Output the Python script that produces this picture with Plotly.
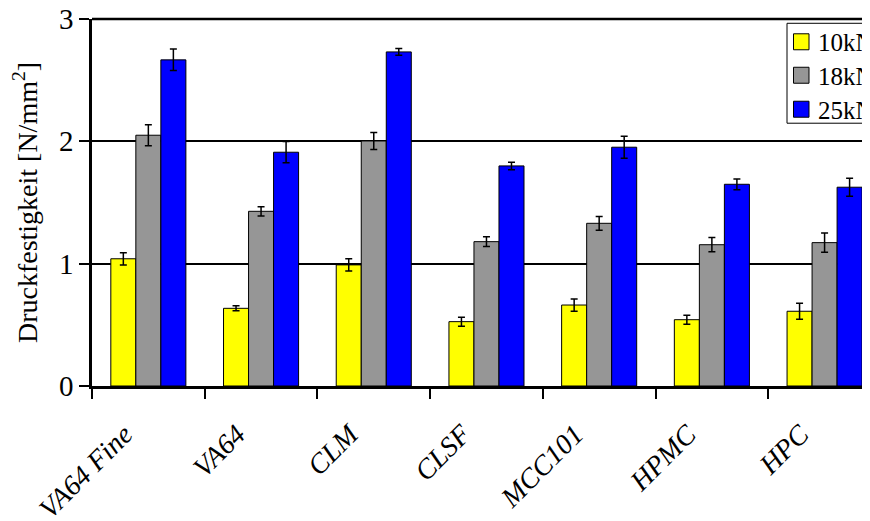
import plotly.graph_objects as go

categories = ["VA64 Fine", "VA64", "CLM", "CLSF", "MCC101", "HPMC", "HPC"]
series_names = ["10kN", "18kN", "25kN"]
values_10kN = [1.04, 0.635, 0.99, 0.526, 0.662, 0.542, 0.611]
values_18kN = [2.05, 1.428, 2.003, 1.18, 1.33, 1.155, 1.172]
values_25kN = [2.666, 1.911, 2.731, 1.799, 1.952, 1.649, 1.625]
err_10kN = [0.05, 0.02, 0.05, 0.037, 0.05, 0.037, 0.065]
err_18kN = [0.086, 0.038, 0.07, 0.04, 0.056, 0.058, 0.078]
err_25kN = [0.088, 0.087, 0.027, 0.031, 0.09, 0.044, 0.074]
y_ticks = [0, 1, 2, 3]
y_max = 3.0
colors = ["#ffff00", "#969696", "#0000ff"]

FONT = "Liberation Serif, Times New Roman, serif"

fig = go.Figure()
for name, vals, errs, col in zip(series_names,
                                 [values_10kN, values_18kN, values_25kN],
                                 [err_10kN, err_18kN, err_25kN], colors):
    fig.add_trace(go.Bar(
        x=categories, y=vals, name=name, showlegend=False,
        marker=dict(color=col, line=dict(color="black", width=1)),
        error_y=dict(type="data", array=errs, visible=True,
                     color="black", thickness=1.5, width=3.5),
    ))

# layout in pixels (page has an 8px body margin)
W, H = 862, 513
L, T, B = 84, 10.7, 135
PW, PH = W - L, H - T - B
def px(xp):  # page x -> paper
    return (xp - 8 - L) / PW
def py(yp):  # page y -> paper
    return (H - B - (yp - 8)) / PH

# top border gridline at the axis maximum (plotly drops gridlines at the edge)
shapes = [dict(type="line", xref="paper", yref="paper", x0=0, x1=1.02,
               y0=1, y1=1, line=dict(color="black", width=2.5), layer="above")]
# manual legend (box partly cut off at the right edge, as in the original)
shapes.append(dict(type="rect", xref="paper", yref="paper",
               x0=px(787), x1=px(900), y0=py(123), y1=py(23),
               line=dict(color="black", width=1), fillcolor="white", layer="above"))
annotations = []
centers = [41.5, 75, 109]
for name, col, cy in zip(series_names, colors, centers):
    shapes.append(dict(type="rect", xref="paper", yref="paper",
                       x0=px(793.5), x1=px(809), y0=py(cy + 8), y1=py(cy - 8),
                       line=dict(color="black", width=1), fillcolor=col, layer="above"))
    annotations.append(dict(text=name, xref="paper", yref="paper",
                            x=px(816), y=py(cy + 1), xanchor="left", yanchor="middle",
                            showarrow=False,
                            font=dict(family=FONT, size=25, color="black")))

fig.update_layout(
    width=W, height=H,
    margin=dict(l=L, r=0, t=T, b=B, autoexpand=False),
    paper_bgcolor="white", plot_bgcolor="white",
    barmode="group", bargap=0.334, bargroupgap=0,
    font=dict(family=FONT, color="black", size=24),
    showlegend=False,
    shapes=shapes, annotations=annotations,
    xaxis=dict(
        range=[-0.5, 6.403], showline=True, linecolor="black", linewidth=2.5,
        ticks="outside", tickson="boundaries", ticklen=10, tickwidth=2,
        tickcolor="black", tickangle=-45, showgrid=False,
        ticklabelstandoff=18, ticklabelshift=-24,
        tickfont=dict(family=FONT, size=28, color="black", style="italic"),
    ),
    yaxis=dict(
        range=[0, y_max], tickvals=y_ticks, showline=True, linecolor="black",
        linewidth=2.5, ticks="outside", ticklen=10, tickwidth=2, tickcolor="black",
        showgrid=True, gridcolor="black", gridwidth=2, zeroline=False,
        ticklabeloverflow="allow",
        tickfont=dict(family=FONT, size=29, color="black"),
        title=dict(text="Druckfestigkeit [N/mm<sup>2</sup>]",
                   font=dict(family=FONT, size=28, color="black"), standoff=14),
    ),
)

fig.write_html("out.html")
